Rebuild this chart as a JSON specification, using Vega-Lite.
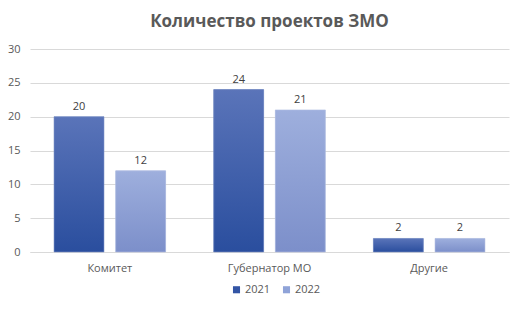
{
  "$schema": "https://vega.github.io/schema/vega-lite/v6.json",
  "width": 479,
  "height": 203,
  "autosize": {"type": "none"},
  "padding": {"left": 30, "top": 49, "right": 22, "bottom": 58},
  "background": "white",
  "config": {
    "view": {"stroke": null},
    "font": "Open Sans",
    "axis": {"labelColor": "#595959", "labelFont": "Open Sans", "labelFontSize": 11},
    "legend": {"labelColor": "#595959", "labelFont": "Open Sans", "labelFontSize": 11}
  },
  "title": {
    "text": "Количество проектов ЗМО",
    "fontSize": 17,
    "fontWeight": "bold",
    "color": "#595959",
    "font": "Open Sans",
    "anchor": "middle",
    "offset": 12
  },
  "data": {
    "values": [
      {"cat": "Комитет", "year": "2021", "v": 20},
      {"cat": "Комитет", "year": "2022", "v": 12},
      {"cat": "Губернатор МО", "year": "2021", "v": 24},
      {"cat": "Губернатор МО", "year": "2022", "v": 21},
      {"cat": "Другие", "year": "2021", "v": 2},
      {"cat": "Другие", "year": "2022", "v": 2}
    ]
  },
  "encoding": {
    "x": {
      "field": "cat", "type": "nominal", "title": null,
      "scale": {"domain": ["Комитет", "Губернатор МО", "Другие"], "paddingInner": 0, "paddingOuter": 0},
      "axis": {"labelAngle": 0, "ticks": false, "domainColor": "#D9D9D9", "labelPadding": 10}
    },
    "xOffset": {
      "field": "year", "type": "nominal",
      "scale": {"domain": ["2021", "2022"], "paddingInner": 0.19, "paddingOuter": 0.39}
    },
    "y": {
      "field": "v", "type": "quantitative", "title": null,
      "scale": {"domain": [0, 30]},
      "axis": {"values": [0, 5, 10, 15, 20, 25, 30], "ticks": false, "domain": false, "gridColor": "#D9D9D9", "labelPadding": 10}
    }
  },
  "layer": [
    {
      "mark": {"type": "bar"},
      "encoding": {
        "color": {
          "field": "year", "type": "nominal",
          "scale": {"domain": ["2021", "2022"], "range": ["#3355A5", "#8FA3D8"]},
          "legend": {"orient": "none", "direction": "horizontal", "legendX": 201, "legendY": 235, "title": null, "symbolType": "square", "symbolSize": 50, "labelOffset": 3, "columnPadding": 10}
        }
      }
    },
    {
      "transform": [{"filter": "datum.year == '2021'"}],
      "mark": {
        "type": "bar",
        "stroke": "#7F93C8", "strokeWidth": 0.6,
        "fill": {"gradient": "linear", "x1": 0, "y1": 0, "x2": 0, "y2": 1,
          "stops": [{"offset": 0, "color": "#5A74B9"}, {"offset": 1, "color": "#2A4E9E"}]}
      }
    },
    {
      "transform": [{"filter": "datum.year == '2022'"}],
      "mark": {
        "type": "bar",
        "stroke": "#B5C1E3", "strokeWidth": 0.6,
        "fill": {"gradient": "linear", "x1": 0, "y1": 0, "x2": 0, "y2": 1,
          "stops": [{"offset": 0, "color": "#9EAFDD"}, {"offset": 1, "color": "#7C8FCA"}]}
      }
    },
    {
      "mark": {"type": "text", "dy": -10, "fontSize": 11, "color": "#404040", "font": "Open Sans"},
      "encoding": {"text": {"field": "v", "type": "quantitative"}}
    }
  ]
}
